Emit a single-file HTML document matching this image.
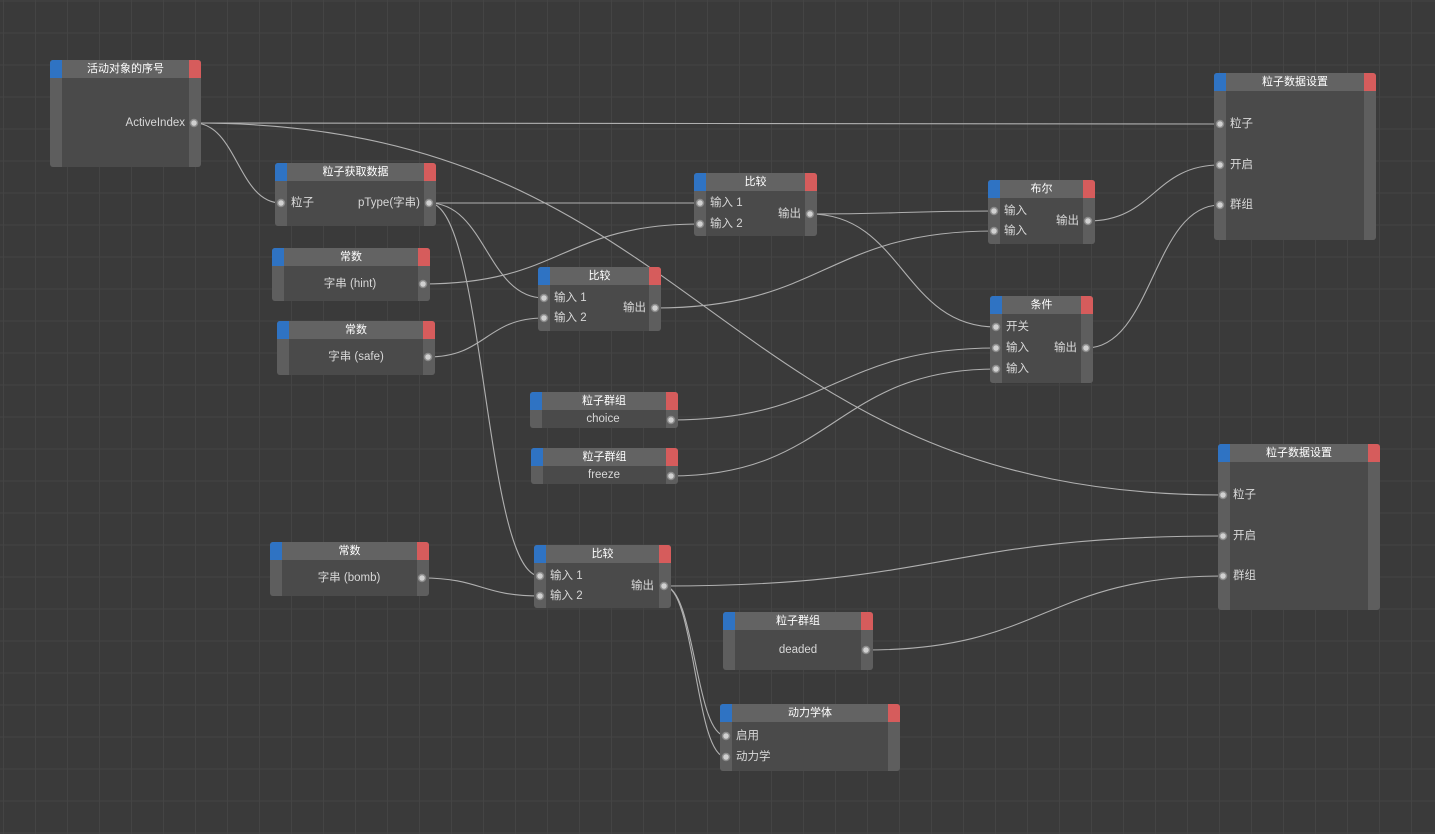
<!DOCTYPE html>
<html><head><meta charset="utf-8"><style>
*{margin:0;padding:0;box-sizing:border-box}
body{width:1435px;height:834px;overflow:hidden;position:relative;background-color:#3a3a3a;
background-image:linear-gradient(to right,#444 1px,transparent 1px),linear-gradient(to bottom,#444 1px,transparent 1px);
background-size:32px 32px;background-position:3px 0.5px;
font-family:"Liberation Sans","Noto Sans CJK SC",sans-serif;font-size:11.5px;color:#d8d8d8}
.n{position:absolute;background:#4a4a4a;border-radius:3px;overflow:hidden}
.n::before{content:"";position:absolute;left:0;top:0;bottom:0;width:12px;background:#5e5e5e}
.n::after{content:"";position:absolute;right:0;top:0;bottom:0;width:12px;background:#5e5e5e}
.h{position:absolute;left:0;right:0;top:0;height:18px;background:#636363;color:#fff;text-align:center;line-height:18px;font-size:11px;z-index:1}
.h::before{content:"";position:absolute;left:0;top:0;width:12px;height:18px;background:#2f73c3}
.h::after{content:"";position:absolute;right:0;top:0;width:12px;height:18px;background:#d65c5c}
.t{position:absolute;line-height:14px;white-space:nowrap;z-index:3}
.c{text-align:center;width:120px}
svg{position:absolute;left:0;top:0}
</style></head><body>
<svg width="1435" height="834" style="z-index:0">
<g fill="none" stroke="#b0b0b0" stroke-width="1.1">
<path d="M194 123 C700 123,720 124,1220 124"/>
<path d="M194 123 C237 123,238 203,281 203"/>
<path d="M194 123 C708 123,708 495,1223 495"/>
<path d="M429 203 C565 203,565 203,700 203"/>
<path d="M429 203 C486 203,487 298,544 298"/>
<path d="M429 203 C485 203,484 576,540 576"/>
<path d="M423 284 C562 284,562 224,700 224"/>
<path d="M428 357 C486 357,486 318,544 318"/>
<path d="M810 214 C902 214,902 211,994 211"/>
<path d="M810 214 C903 214,903 327,996 327"/>
<path d="M655 308 C825 308,825 231,994 231"/>
<path d="M671 420 C834 420,834 348,996 348"/>
<path d="M671 476 C834 476,834 369,996 369"/>
<path d="M1088 221 C1154 221,1154 165,1220 165"/>
<path d="M1086 348 C1153 348,1153 205,1220 205"/>
<path d="M422 578 C481 578,481 596,540 596"/>
<path d="M664 586 C944 586,944 536,1223 536"/>
<path d="M866 650 C1045 650,1045 576,1223 576"/>
<path d="M664 586 C695 586,695 736,726 736"/>
<path d="M664 586 C695 586,695 757,726 757"/>
</g></svg>

<div class="n" style="left:50px;top:60px;width:151px;height:107px"><div class="h">活动对象的序号</div></div>
<div class="n" style="left:275px;top:163px;width:161px;height:63px"><div class="h">粒子获取数据</div></div>
<div class="n" style="left:272px;top:248px;width:158px;height:53px"><div class="h">常数</div></div>
<div class="n" style="left:277px;top:321px;width:158px;height:54px"><div class="h">常数</div></div>
<div class="n" style="left:538px;top:267px;width:123px;height:64px"><div class="h">比较</div></div>
<div class="n" style="left:694px;top:173px;width:123px;height:63px"><div class="h">比较</div></div>
<div class="n" style="left:988px;top:180px;width:107px;height:64px"><div class="h">布尔</div></div>
<div class="n" style="left:990px;top:296px;width:103px;height:87px"><div class="h">条件</div></div>
<div class="n" style="left:530px;top:392px;width:148px;height:36px"><div class="h">粒子群组</div></div>
<div class="n" style="left:531px;top:448px;width:147px;height:36px"><div class="h">粒子群组</div></div>
<div class="n" style="left:1214px;top:73px;width:162px;height:167px"><div class="h">粒子数据设置</div></div>
<div class="n" style="left:1218px;top:444px;width:162px;height:166px"><div class="h">粒子数据设置</div></div>
<div class="n" style="left:270px;top:542px;width:159px;height:54px"><div class="h">常数</div></div>
<div class="n" style="left:534px;top:545px;width:137px;height:63px"><div class="h">比较</div></div>
<div class="n" style="left:723px;top:612px;width:150px;height:58px"><div class="h">粒子群组</div></div>
<div class="n" style="left:720px;top:704px;width:180px;height:67px"><div class="h">动力学体</div></div>

<span class="t" style="right:1250px;top:116px">ActiveIndex</span>
<span class="t" style="left:291px;top:196px">粒子</span>
<span class="t" style="right:1015px;top:196px">pType(字串)</span>
<span class="t c" style="left:290px;top:277px">字串 (hint)</span>
<span class="t c" style="left:296px;top:350px">字串 (safe)</span>
<span class="t" style="left:554px;top:291px">输入 1</span>
<span class="t" style="left:554px;top:311px">输入 2</span>
<span class="t" style="right:789px;top:301px">输出</span>
<span class="t" style="left:710px;top:196px">输入 1</span>
<span class="t" style="left:710px;top:217px">输入 2</span>
<span class="t" style="right:634px;top:207px">输出</span>
<span class="t" style="left:1004px;top:204px">输入</span>
<span class="t" style="left:1004px;top:224px">输入</span>
<span class="t" style="right:356px;top:214px">输出</span>
<span class="t" style="left:1006px;top:320px">开关</span>
<span class="t" style="left:1006px;top:341px">输入</span>
<span class="t" style="left:1006px;top:362px">输入</span>
<span class="t" style="right:358px;top:341px">输出</span>
<span class="t c" style="left:543px;top:412px">choice</span>
<span class="t c" style="left:544px;top:468px">freeze</span>
<span class="t" style="left:1230px;top:117px">粒子</span>
<span class="t" style="left:1230px;top:158px">开启</span>
<span class="t" style="left:1230px;top:198px">群组</span>
<span class="t" style="left:1233px;top:488px">粒子</span>
<span class="t" style="left:1233px;top:529px">开启</span>
<span class="t" style="left:1233px;top:569px">群组</span>
<span class="t c" style="left:289px;top:571px">字串 (bomb)</span>
<span class="t" style="left:550px;top:569px">输入 1</span>
<span class="t" style="left:550px;top:589px">输入 2</span>
<span class="t" style="right:781px;top:579px">输出</span>
<span class="t c" style="left:738px;top:643px">deaded</span>
<span class="t" style="left:736px;top:729px">启用</span>
<span class="t" style="left:736px;top:750px">动力学</span>

<svg width="1435" height="834" style="z-index:4">
<g fill="#d0d0d0" stroke="#8a8a8a" stroke-width="1.5">
<circle cx="194" cy="123" r="3.5"/>
<circle cx="281" cy="203" r="3.5"/><circle cx="429" cy="203" r="3.5"/>
<circle cx="423" cy="284" r="3.5"/><circle cx="428" cy="357" r="3.5"/>
<circle cx="544" cy="298" r="3.5"/><circle cx="544" cy="318" r="3.5"/><circle cx="655" cy="308" r="3.5"/>
<circle cx="700" cy="203" r="3.5"/><circle cx="700" cy="224" r="3.5"/><circle cx="810" cy="214" r="3.5"/>
<circle cx="994" cy="211" r="3.5"/><circle cx="994" cy="231" r="3.5"/><circle cx="1088" cy="221" r="3.5"/>
<circle cx="996" cy="327" r="3.5"/><circle cx="996" cy="348" r="3.5"/><circle cx="996" cy="369" r="3.5"/><circle cx="1086" cy="348" r="3.5"/>
<circle cx="671" cy="420" r="3.5"/><circle cx="671" cy="476" r="3.5"/>
<circle cx="1220" cy="124" r="3.5"/><circle cx="1220" cy="165" r="3.5"/><circle cx="1220" cy="205" r="3.5"/>
<circle cx="1223" cy="495" r="3.5"/><circle cx="1223" cy="536" r="3.5"/><circle cx="1223" cy="576" r="3.5"/>
<circle cx="422" cy="578" r="3.5"/>
<circle cx="540" cy="576" r="3.5"/><circle cx="540" cy="596" r="3.5"/><circle cx="664" cy="586" r="3.5"/>
<circle cx="866" cy="650" r="3.5"/>
<circle cx="726" cy="736" r="3.5"/><circle cx="726" cy="757" r="3.5"/>
</g></svg>
</body></html>
